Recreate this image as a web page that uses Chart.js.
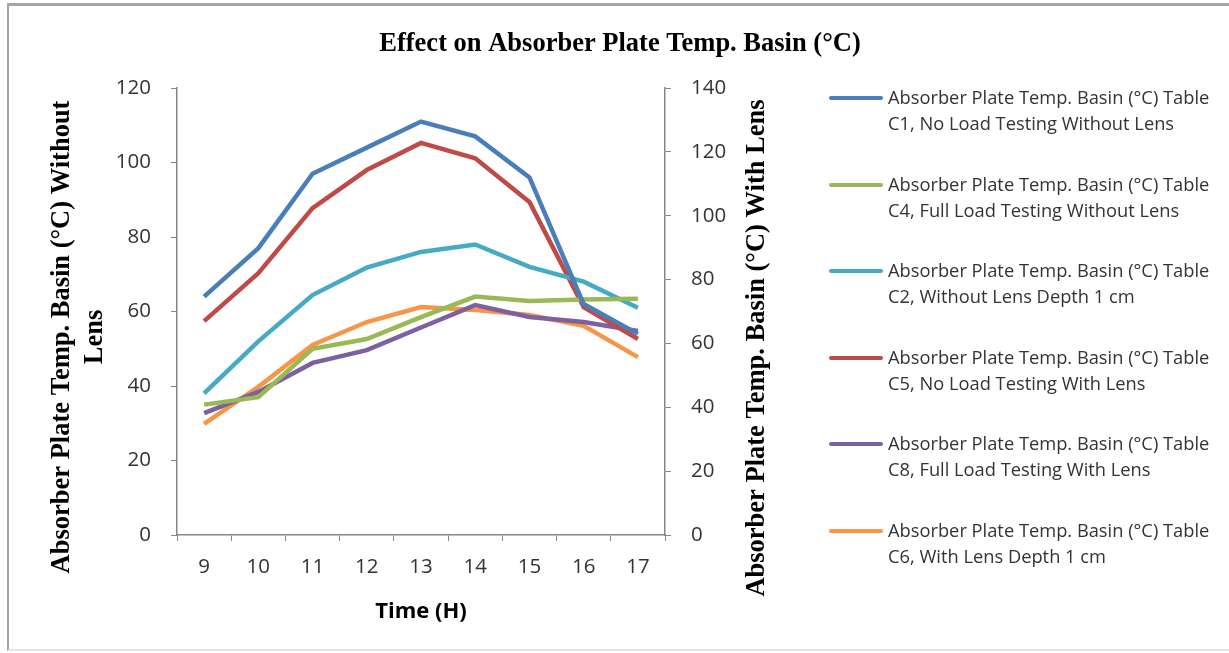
<!DOCTYPE html>
<html>
<head>
<meta charset="utf-8">
<script src="https://cdn.jsdelivr.net/npm/chart.js@4"></script>
<style>
  body { margin: 0; background: #fff; }
  #frame {
    position: absolute; left: 7px; top: 3px; width: 1230px; height: 643px;
    border-top: 3px solid #a6a6a6; border-left: 2px solid #a6a6a6; border-bottom: 2px solid #e4e4e4;
  }
  #wrap { position: absolute; left: 0; top: 0; width: 1229px; height: 653px; }
  #legend { position: absolute; left: 829px; top: 84px; font-family: 'Open Sans', sans-serif; font-size: 18.3px; color: #333; }
  .item { display: flex; align-items: flex-start; height: 86.5px; }
  .swatch { width: 54px; height: 4px; margin-top: 12px; margin-right: 5px; border-radius: 2px; }
  .txt { line-height: 26px; white-space: nowrap; }
</style>
</head>
<body>
<div id="frame"></div>
<div id="wrap"><canvas id="grafico"></canvas></div>
<div id="legend"></div>
<script>
// =========================
// DATA
// =========================

const horas = ['9', '10', '11', '12', '13', '14', '15', '16', '17'];

// left axis (without lens)
const c1SemCarga = [64, 77, 97, 104, 111, 107, 96, 62, 54];
const c4CargaTotal = [35, 37, 50, 52.6, 58.5, 64, 62.8, 63.2, 63.4];
const c2Profundidade = [38, 52, 64.4, 71.8, 76, 78, 72, 68, 61];

// right axis (with lens)
const c5SemCarga = [67, 82, 102.4, 114.3, 122.8, 118, 104.3, 71.4, 61.4];
const c8CargaTotal = [38.2, 44.8, 53.9, 57.9, 65, 72, 68.3, 66.7, 63.9];
const c6Profundidade = [34.8, 46.4, 59.5, 66.7, 71.4, 70.5, 68.9, 65.5, 55.7];

const rotulos = [
    ['Absorber Plate Temp. Basin (°C) Table', 'C1, No Load Testing Without Lens'],
    ['Absorber Plate Temp. Basin (°C) Table', 'C4, Full Load Testing Without Lens'],
    ['Absorber Plate Temp. Basin (°C) Table', 'C2, Without Lens Depth 1 cm'],
    ['Absorber Plate Temp. Basin (°C) Table', 'C5, No Load Testing With Lens'],
    ['Absorber Plate Temp. Basin (°C) Table', 'C8, Full Load Testing With Lens'],
    ['Absorber Plate Temp. Basin (°C) Table', 'C6, With Lens Depth 1 cm']
];

const eixoEsqTicks = [0, 20, 40, 60, 80, 100, 120];
const eixoDirTicks = [0, 20, 40, 60, 80, 100, 120, 140];

// =========================
// CHART
// =========================

const tickFont = { family: "'Open Sans', sans-serif", size: 20.5 };
const serifBold = "bold 26.5px 'Liberation Serif', serif";

function serie(label, data, cor, eixo) {
    return {
        label: label,
        data: data,
        borderColor: cor,
        backgroundColor: cor,
        borderWidth: 4.5,
        pointRadius: 0,
        tension: 0,
        yAxisID: eixo
    };
}

// titles drawn on canvas (main + both y axis titles)
const titulos = {
    id: 'titulos',
    afterDraw(chart) {
        const c = chart.ctx;
        c.save();
        c.fillStyle = '#000';
        c.textAlign = 'center';
        c.textBaseline = 'middle';
        c.font = serifBold;
        c.fillText('Effect on Absorber Plate Temp. Basin (°C)', 620, 44);

        c.save();
        c.translate(62, 337);
        c.rotate(-Math.PI / 2);
        c.fillText('Absorber Plate Temp. Basin (°C) Without', 0, 0);
        c.fillText('Lens', 0, 33);
        c.restore();

        c.translate(757, 348);
        c.rotate(-Math.PI / 2);
        c.fillText('Absorber Plate Temp. Basin (°C) With Lens', 0, 0);
        c.restore();
    }
};

const grafico = document.getElementById('grafico');

if (grafico) {

    const ctx = grafico.getContext('2d');

    const chart = new Chart(ctx, {
        type: 'line',
        data: {
            labels: horas,
            datasets: [
                serie(rotulos[0], c1SemCarga, '#4A7EBB', 'y'),
                serie(rotulos[1], c4CargaTotal, '#98B954', 'y'),
                serie(rotulos[2], c2Profundidade, '#46AAC5', 'y'),
                serie(rotulos[3], c5SemCarga, '#BE4B48', 'y1'),
                serie(rotulos[4], c8CargaTotal, '#7D60A0', 'y1'),
                serie(rotulos[5], c6Profundidade, '#F79646', 'y1')
            ]
        },
        options: {
            responsive: true,
            maintainAspectRatio: false,
            animation: false,
            layout: {
                padding: { top: 88, right: 429, bottom: 28, left: 0 }
            },
            scales: {
                x: {
                    offset: true,
                    grid: {
                        offset: true,
                        drawOnChartArea: false,
                        tickLength: 6,
                        color: '#868686'
                    },
                    border: { color: '#868686', width: 1.5 },
                    ticks: { color: '#333', font: tickFont, padding: 14 },
                    title: {
                        display: true,
                        text: 'Time (H)',
                        color: '#000',
                        font: { family: "'Open Sans', sans-serif", size: 22, weight: 'bold' },
                        padding: { top: 10, bottom: 0 }
                    },
                    afterFit: (s) => { s.height = 90; }
                },
                y: {
                    position: 'left',
                    min: 0,
                    max: 120,
                    afterBuildTicks: (s) => { s.ticks = eixoEsqTicks.map(v => ({ value: v })); },
                    grid: { drawOnChartArea: false, tickLength: 6, color: '#868686' },
                    border: { color: '#868686', width: 1.5 },
                    ticks: { color: '#333', font: tickFont, padding: 20 },
                    afterFit: (s) => { s.width = 177; }
                },
                y1: {
                    position: 'right',
                    min: 0,
                    max: 140,
                    afterBuildTicks: (s) => { s.ticks = eixoDirTicks.map(v => ({ value: v })); },
                    grid: { drawOnChartArea: false, tickLength: 6, color: '#868686' },
                    border: { color: '#868686', width: 1.5 },
                    ticks: { color: '#333', font: tickFont, padding: 20 },
                    afterFit: (s) => { s.width = 135; }
                }
            },
            plugins: {
                legend: { display: false },
                tooltip: { enabled: false }
            }
        },
        plugins: [titulos]
    });

    // html legend built from the datasets
    const legenda = document.getElementById('legend');
    chart.data.datasets.forEach(ds => {
        const item = document.createElement('div');
        item.className = 'item';
        item.innerHTML = '<div class="swatch" style="background:' + ds.borderColor + '"></div>' +
            '<div class="txt">' + ds.label.join('<br>') + '</div>';
        legenda.appendChild(item);
    });
}
</script>
</body>
</html>
